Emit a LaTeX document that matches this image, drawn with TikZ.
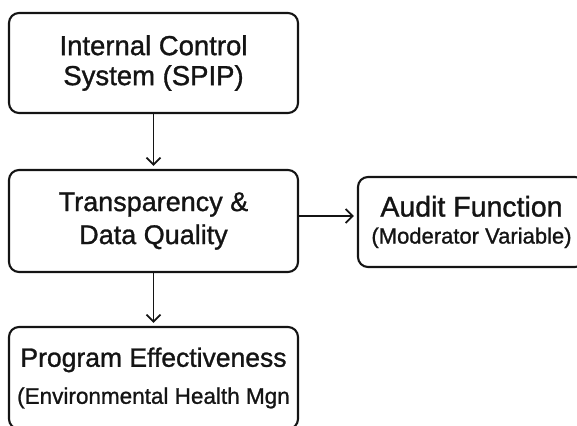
\documentclass[tikz,border=0pt]{standalone}
\usepackage{fontspec}
\setmainfont{Liberation Sans}[FakeBold=1.1]
\usetikzlibrary{arrows.meta, positioning}
\definecolor{inkblack}{RGB}{20,20,20}

\begin{document}
\begin{tikzpicture}[x=1pt, y=-1pt, >={Straight Barb[length=7pt, width=14pt]},
    box/.style={draw=inkblack, line width=2.1pt, rounded corners=10pt, align=center,
        inner sep=0pt, text=inkblack},
    link/.style={->, line width=1.8pt, draw=inkblack, shorten >=3pt}]
    % Frame
    \useasboundingbox (0,0) rectangle (577,425);
    \clip (0,0) rectangle (577,425);

    % Boxes
    \node[box, minimum width=289pt, minimum height=100pt, font=\fontsize{27.5}{30}\selectfont]
        (spip) at (153.5,63) {Internal Control\\System (SPIP)};
    \node[box, minimum width=289pt, minimum height=102pt, font=\fontsize{27}{33}\selectfont]
        (transp) at (153.5,221) {Transparency \&\\Data Quality};
    \node[box, minimum width=227pt, minimum height=90pt, font=\fontsize{28.5}{27}\selectfont]
        (audit) at (471.5,222) {Audit Function\\{\fontsize{22}{25}\selectfont (Moderator Variable)}};
    \node[box, minimum width=289pt, minimum height=102pt, font=\fontsize{26.5}{30}\selectfont]
        (effect) at (153.5,378) {Program Effectiveness\\[7pt]{\fontsize{22.5}{30}\selectfont (Environmental Health Mgn}};

    % Arrows
    \draw[link] (spip) -- (transp);
    \draw[link] ([yshift=5pt]transp.east) -- ([yshift=5pt]transp.east -| audit.west);
    \draw[link] (transp) -- (effect);
\end{tikzpicture}
\end{document}
